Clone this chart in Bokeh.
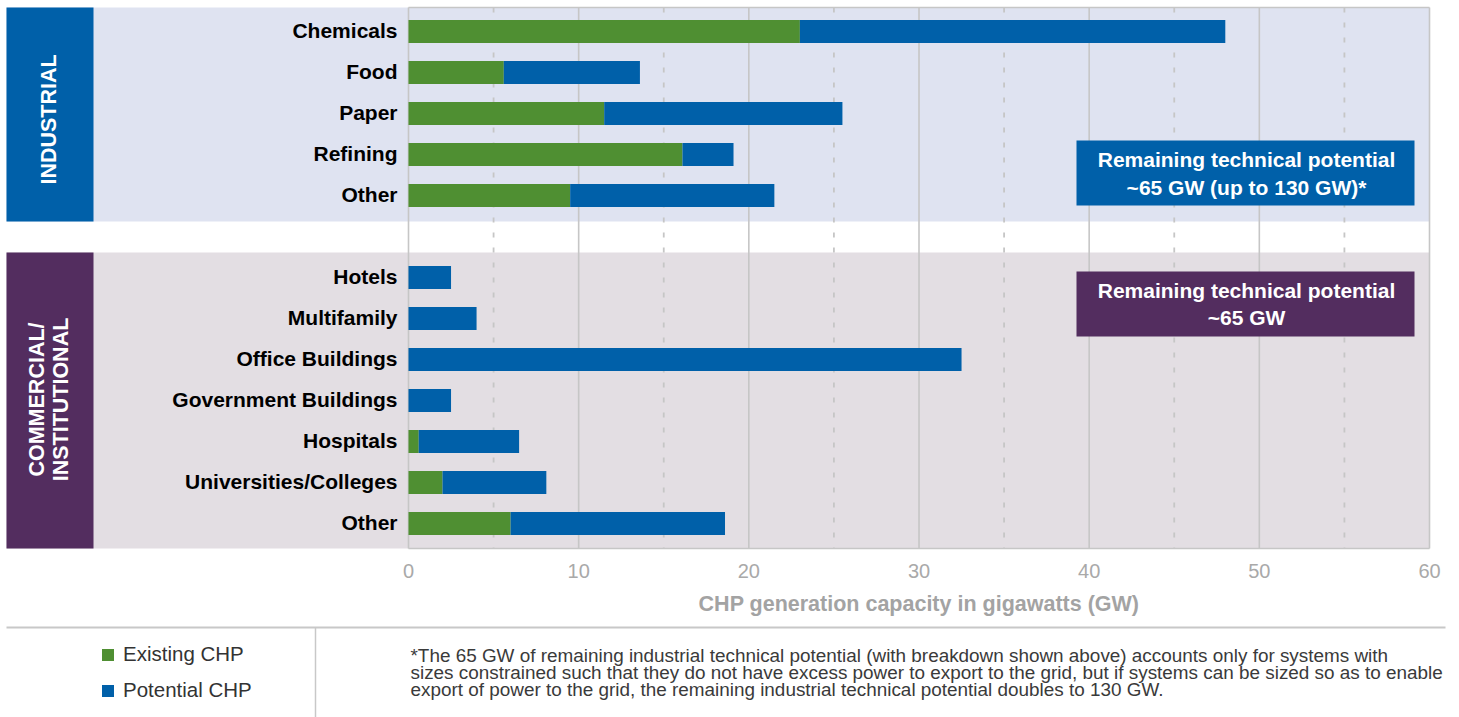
import numpy as np
from bokeh.plotting import figure
from bokeh.models import ColumnDataSource, Range1d, LinearAxis, FixedTicker, Legend, LegendItem
from bokeh.core.properties import value
from bokeh.embed import file_html
from bokeh.resources import INLINE

# ---------------- data ----------------
industrial_sectors = ["Chemicals", "Food", "Paper", "Refining", "Other"]
industrial_existing = [23.0, 5.6, 11.5, 16.1, 9.5]
industrial_potential = [25.0, 8.0, 14.0, 3.0, 12.0]

commercial_sectors = ["Hotels", "Multifamily", "Office Buildings", "Government Buildings",
                      "Hospitals", "Universities/Colleges", "Other"]
commercial_existing = [0.0, 0.0, 0.0, 0.0, 0.6, 2.0, 6.0]
commercial_potential = [2.5, 4.0, 32.5, 2.5, 5.9, 6.1, 12.6]

x_ticks = [0, 10, 20, 30, 40, 50, 60]
x_axis_title = "CHP generation capacity in gigawatts (GW)"
legend_labels = ["Existing CHP", "Potential CHP"]
group_labels = ["INDUSTRIAL", "COMMERCIAL/", "INSTITUTIONAL"]
industrial_callout = ["Remaining technical potential", "~65 GW (up to 130 GW)*"]
commercial_callout = ["Remaining technical potential", "~65 GW"]
footnote_lines = [
    "*The 65 GW of remaining industrial technical potential (with breakdown shown above) accounts only for systems with",
    "sizes constrained such that they do not have excess power to export to the grid, but if systems can be sized so as to enable",
    "export of power to the grid, the remaining industrial technical potential doubles to 130 GW.",
]

# ---------------- style / layout ----------------
GREEN = "#4f8f32"
BLUE = "#0060a9"
PURPLE = "#532d5f"
BAND_IND = "#dfe3f1"
BAND_COM = "#e3dee3"
GRID = "#c6c6c6"
FONT = value("Liberation Sans")

W, H = 1459, 717
X0_PX, X60_PX = 408, 1429
PX_PER_GW = (X60_PX - X0_PX) / 60.0
ROW0_PX, ROW_PX = 31, 41


def gx(px):
    return (px - X0_PX) / PX_PER_GW


def gy(py):
    return (py - ROW0_PX) / ROW_PX


ind_rows = list(range(len(industrial_sectors)))
com_rows = [len(industrial_sectors) + 1 + i for i in range(len(commercial_sectors))]

rows = ind_rows + com_rows
names = industrial_sectors + commercial_sectors
existing = industrial_existing + commercial_existing
potential = industrial_potential + commercial_potential
total = [e + q for e, q in zip(existing, potential)]

src = ColumnDataSource(dict(y=rows, name=names, existing=existing, total=total))

p = figure(width=W, height=H, x_range=Range1d(gx(0), gx(W)), y_range=Range1d(gy(H), gy(0)),
           toolbar_location=None, output_backend="svg", min_border=0,
           x_axis_type=None, y_axis_type=None, outline_line_color=None,
           background_fill_color="white", border_fill_color="white")
p.grid.visible = False

TOP, IND_BOT, COM_TOP, BOT = gy(7), gy(221), gy(252), gy(548)

# background bands
p.quad(left=gx(6), right=60, top=TOP, bottom=IND_BOT, fill_color=BAND_IND, line_color=None)
p.quad(left=gx(6), right=60, top=COM_TOP, bottom=BOT, fill_color=BAND_COM, line_color=None)
# group blocks
p.quad(left=gx(6), right=gx(93), top=TOP, bottom=IND_BOT, fill_color=BLUE, line_color=None)
p.quad(left=gx(6), right=gx(93), top=COM_TOP, bottom=BOT, fill_color=PURPLE, line_color=None)

# grid lines
solid = [t for t in x_ticks]
dashed = [t + 5 for t in x_ticks[:-1]]
p.segment(x0=solid, y0=[TOP] * len(solid), x1=solid, y1=[BOT] * len(solid),
          line_color=GRID, line_width=1.6)
p.segment(x0=dashed, y0=[TOP] * len(dashed), x1=dashed, y1=[BOT] * len(dashed),
          line_color=GRID, line_width=1.8, line_dash="5 10")
p.segment(x0=[0], y0=[TOP], x1=[60], y1=[TOP], line_color=GRID, line_width=1.6)

# bars
BAR_H = 23 / ROW_PX
r_exist = p.hbar(y="y", left=0, right="existing", height=BAR_H, source=src,
                 fill_color=GREEN, line_color=None)
r_pot = p.hbar(y="y", left="existing", right="total", height=BAR_H, source=src,
               fill_color=BLUE, line_color=None)

# category labels
p.text(x=0, y="y", text="name", source=src, x_offset=-11, y_offset=-1, text_align="right",
       text_baseline="middle", text_font=FONT, text_font_style="bold",
       text_font_size="21px", text_color="#000000")

# group labels (vertical)
p.text(x=[gx(48), gx(36), gx(60)], y=[gy(119), gy(399), gy(399)], text=group_labels,
       angle=np.pi / 2, text_align="center", text_baseline="middle", text_font=FONT,
       text_font_style="bold", text_font_size="21.5px", text_color="white")

# callouts
p.quad(left=gx(1076), right=gx(1414), top=gy(140), bottom=gy(205), fill_color=BLUE, line_color=None)
p.quad(left=gx(1076), right=gx(1414), top=gy(271), bottom=gy(336), fill_color=PURPLE, line_color=None)
cx = gx(1246)
p.text(x=[cx] * 4, y=[gy(159), gy(187), gy(290), gy(317)],
       text=industrial_callout + commercial_callout, text_align="center", text_baseline="middle",
       text_font=FONT, text_font_style="bold", text_font_size="21px", text_color="white")

# x axis
ax = LinearAxis(ticker=FixedTicker(ticks=x_ticks), fixed_location=BOT, bounds=(0, 60),
                axis_label=x_axis_title)
ax.axis_line_color = GRID
ax.axis_line_width = 1.6
ax.major_tick_line_color = None
ax.minor_tick_line_color = None
ax.major_tick_out = 0
ax.major_tick_in = 0
ax.major_label_standoff = 15
ax.major_label_text_font = "Liberation Sans"
ax.major_label_text_font_size = "20px"
ax.major_label_text_color = "#a9a9a9"
ax.axis_label_text_font = "Liberation Sans"
ax.axis_label_text_font_size = "21.5px"
ax.axis_label_text_font_style = "bold"
ax.axis_label_text_color = "#a3a3a3"
ax.axis_label_standoff = 11
p.add_layout(ax, "below")

# separators
p.segment(x0=[gx(6)], y0=[gy(627)], x1=[gx(1445)], y1=[gy(627)], line_color="#c8c8c8", line_width=2)
p.segment(x0=[gx(315)], y0=[gy(627)], x1=[gx(315)], y1=[gy(717)], line_color="#c8c8c8", line_width=1.5)

# footnote
p.text(x=gx(410), y=[gy(655), gy(672), gy(689)], text=footnote_lines, text_align="left",
       text_baseline="middle", text_font=FONT, text_font_size="18.9px", text_color="#3a3a3a")

# legend
legend = Legend(items=[LegendItem(label=legend_labels[0], renderers=[r_exist]),
                       LegendItem(label=legend_labels[1], renderers=[r_pot])],
                location=(100, 15), orientation="vertical",
                glyph_width=15, glyph_height=15, label_standoff=8, spacing=12,
                padding=0, margin=0, border_line_color=None, background_fill_alpha=0,
                label_text_font="Liberation Sans", label_text_font_size="20.5px",
                label_text_color="#333333")
p.add_layout(legend)

open("out.html", "w").write(file_html(p, INLINE))
